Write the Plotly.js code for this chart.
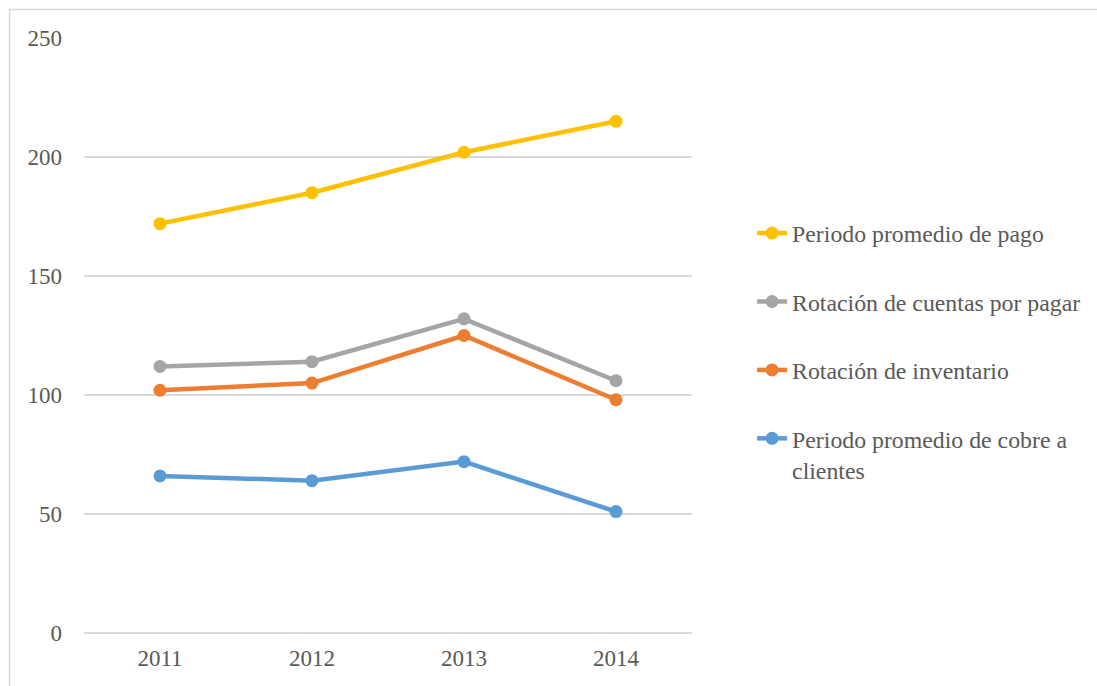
<!DOCTYPE html>
<html>
<head>
<meta charset="utf-8">
<script src="https://cdn.plot.ly/plotly-3.0.1.min.js"></script>
<style>html,body{margin:0;padding:0;background:#fff;}#chart{width:1097px;height:686px;}</style>
</head>
<body>
<div id="chart"></div>
<script>
const years = ['2011', '2012', '2013', '2014'];
const periodoPago = [172, 185, 202, 215];
const rotacionCuentas = [112, 114, 132, 106];
const rotacionInventario = [102, 105, 125, 98];
const periodoCobro = [66, 64, 72, 51];
const seriesNames = ['Periodo promedio de pago', 'Rotación de cuentas por pagar', 'Rotación de inventario', 'Periodo promedio de cobre a<br>clientes'];
const seriesColors = ['#FFC000', '#A5A5A5', '#ED7D31', '#5B9BD5'];
const seriesValues = [periodoPago, rotacionCuentas, rotacionInventario, periodoCobro];

const traces = seriesValues.map((vals, i) => ({
  type: 'scatter',
  mode: 'lines+markers',
  x: years,
  y: vals,
  name: seriesNames[i],
  legendgroup: 'g' + i,
  line: {color: seriesColors[i], width: 4.5},
  marker: {color: seriesColors[i], size: 13},
  hoverinfo: 'x+y'
}));

function mkFont(s) { return {family: 'Liberation Serif', size: s, color: '#595959'}; }

const layout = {
  width: 1097, height: 686,
  margin: {l: 84, r: 404, t: 38, b: 53},
  paper_bgcolor: '#ffffff', plot_bgcolor: '#ffffff',
  font: mkFont(23),
  showlegend: true,
  legend: {
    x: 1.097, xanchor: 'left', y: 0.473, yanchor: 'middle',
    font: mkFont(23.8), tracegroupgap: 34.5, valign: 'top', itemwidth: 30,
    bgcolor: 'rgba(0,0,0,0)'
  },
  xaxis: {
    type: 'category', range: [-0.5, 3.5],
    showgrid: false, zeroline: false, showline: false,
    ticks: '', tickfont: mkFont(23), ticklabelstandoff: 9, fixedrange: true
  },
  yaxis: {
    range: [0, 250], dtick: 50, tick0: 0,
    showgrid: true, gridcolor: '#D9D9D9', gridwidth: 1.5,
    zeroline: true, zerolinecolor: '#D9D9D9', zerolinewidth: 1.5,
    showline: false, ticks: '', tickfont: mkFont(23), ticklabelstandoff: 21, fixedrange: true
  },
  shapes: [{
    type: 'rect', xref: 'paper', yref: 'paper',
    x0: (9.5 - 84) / 609, x1: 2.0, y0: -0.5, y1: (633 - 9.5) / 595,
    line: {color: '#D9D9D9', width: 1.5}, fillcolor: 'rgba(0,0,0,0)', layer: 'below'
  }]
};

Plotly.newPlot('chart', traces, layout, {displayModeBar: false, staticPlot: true});
</script>
</body>
</html>
